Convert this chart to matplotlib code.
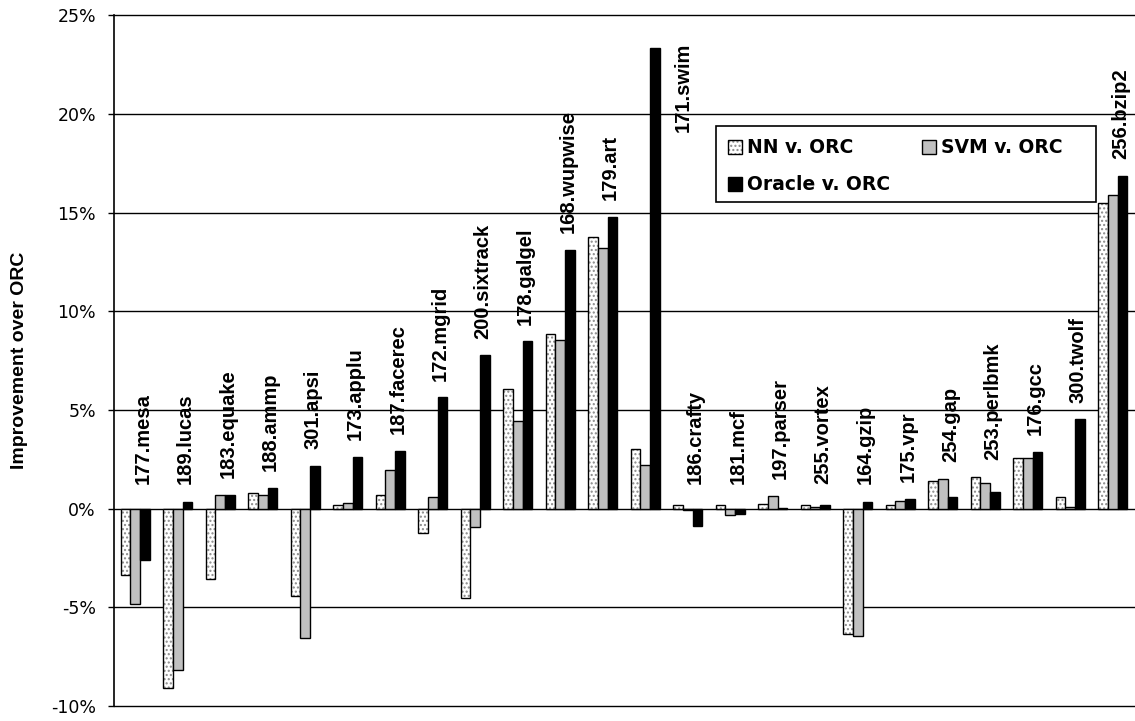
import matplotlib
matplotlib.use("Agg")
import matplotlib.pyplot as plt
from matplotlib.patches import Patch, Rectangle
from matplotlib.ticker import FuncFormatter
import numpy as np

benchmarks = ["177.mesa", "189.lucas", "183.equake", "188.ammp", "301.apsi",
              "173.applu", "187.facerec", "172.mgrid", "200.sixtrack", "178.galgel",
              "168.wupwise", "179.art", "171.swim", "186.crafty", "181.mcf",
              "197.parser", "255.vortex", "164.gzip", "175.vpr", "254.gap",
              "253.perlbmk", "176.gcc", "300.twolf", "256.bzip2"]

nn_vs_orc = [-3.34, -9.1, -3.58, 0.8, -4.41, 0.2, 0.68, -1.24, -4.55, 6.05,
             8.84, 13.77, 3.02, 0.18, 0.2, 0.23, 0.2, -6.36, 0.16, 1.39,
             1.61, 2.55, 0.57, 15.5]
svm_vs_orc = [-4.85, -8.2, 0.71, 0.69, -6.56, 0.3, 1.97, 0.61, -0.91, 4.43,
              8.57, 13.2, 2.23, -0.09, -0.3, 0.64, 0.1, -6.45, 0.39, 1.52,
              1.32, 2.55, 0.07, 15.9]
oracle_vs_orc = [-2.58, 0.32, 0.71, 1.07, 2.15, 2.61, 2.93, 5.64, 7.77, 8.48,
                 13.1, 14.8, 23.35, -0.86, -0.27, 0.05, 0.2, 0.32, 0.48, 0.61,
                 0.84, 2.89, 4.52, 16.86]

series_names = ["NN v. ORC", "SVM v. ORC", "Oracle v. ORC"]
y_ticks = [-10, -5, 0, 5, 10, 15, 20, 25]

W, H = 1135, 721
fig = plt.figure(figsize=(W / 100, H / 100), dpi=100)
ax = fig.add_axes([114 / W, 1 - 706 / H, (1134 - 114) / W, (706 - 15.3) / H])

x = np.arange(len(benchmarks))
bw = 0.228
edge_lw = 1.0

# NN bars: white with grey stipple, outlined in black
ax.bar(x - bw, nn_vs_orc, bw, facecolor="white", edgecolor="#8a8a8a",
       hatch="....", linewidth=0, zorder=3)
ax.bar(x - bw, nn_vs_orc, bw, fill=False, edgecolor="black",
       linewidth=edge_lw, zorder=4)
ax.bar(x, svm_vs_orc, bw, facecolor="#c0c0c0", edgecolor="black",
       linewidth=edge_lw, zorder=4)
ax.bar(x + bw, oracle_vs_orc, bw, facecolor="black", edgecolor="black",
       linewidth=edge_lw, zorder=4)

ax.set_xlim(-0.5, len(benchmarks) - 0.5)
ax.set_ylim(-10, 25)
ax.set_yticks(y_ticks)
ax.yaxis.set_major_formatter(FuncFormatter(lambda v, p: f"{v:.0f}%"))
ax.tick_params(axis="y", direction="out", length=4, width=1, pad=9,
               labelsize=12.5, colors="black")
for lab in ax.get_yticklabels():
    lab.set_family("DejaVu Sans")
ax.set_xticks([])

for s in ("top", "right", "bottom"):
    ax.spines[s].set_visible(False)
ax.spines["left"].set_linewidth(1.2)
ax.yaxis.grid(True, color="black", linewidth=1.0, zorder=0)
for gl in ax.get_ygridlines():
    gl.set_clip_on(False)
ax.set_axisbelow(True)

ax.set_ylabel("Improvement over ORC", fontsize=14, fontweight="bold",
              family="Liberation Sans")
ax.yaxis.set_label_coords(-0.084, 0.5)

# Benchmark names written vertically above each group
for i, name in enumerate(benchmarks):
    top = max(nn_vs_orc[i], svm_vs_orc[i], oracle_vs_orc[i], 0)
    if top > 20:
        ax.text(i + 0.89, top + 0.25, name, rotation=90, ha="center", va="top",
                fontsize=14.5, fontweight="bold", family="Liberation Sans", zorder=5)
    else:
        ax.text(i + 0.18, max(top + 0.85, 1.25), name, rotation=90,
                ha="center", va="bottom", fontsize=14.5, fontweight="bold",
                family="Liberation Sans", zorder=5)

# Legend box drawn as a plain rectangle, entries placed inside it
lx0, ly0, lw_, lh_ = 716 / W, 1 - 202 / H, 380 / W, 76 / H
fig.patches.append(Rectangle((lx0, ly0), lw_, lh_, transform=fig.transFigure,
                             facecolor="white", edgecolor="black",
                             linewidth=1.2, zorder=3))

h_nn = (Patch(facecolor="white", edgecolor="#8a8a8a", hatch="....", linewidth=0),
        Patch(fill=False, edgecolor="black", linewidth=edge_lw))
h_svm = Patch(facecolor="#c0c0c0", edgecolor="black", linewidth=edge_lw)
h_or = Patch(facecolor="black", edgecolor="black", linewidth=edge_lw)

leg = fig.legend([h_nn, h_or, h_svm],
                 [series_names[0], series_names[2], series_names[1]],
                 ncol=2, loc="upper left",
                 bbox_to_anchor=(lx0, ly0 + lh_),
                 bbox_transform=fig.transFigure, frameon=False,
                 handlelength=0.75, handleheight=0.75, handletextpad=0.25,
                 labelspacing=0.96, borderpad=0.65, borderaxespad=0,
                 columnspacing=1.7,
                 prop={"family": "DejaVu Sans", "weight": "bold", "size": 13.5})
leg.set_zorder(6)

fig.savefig("out.png", dpi=100, facecolor="white")
